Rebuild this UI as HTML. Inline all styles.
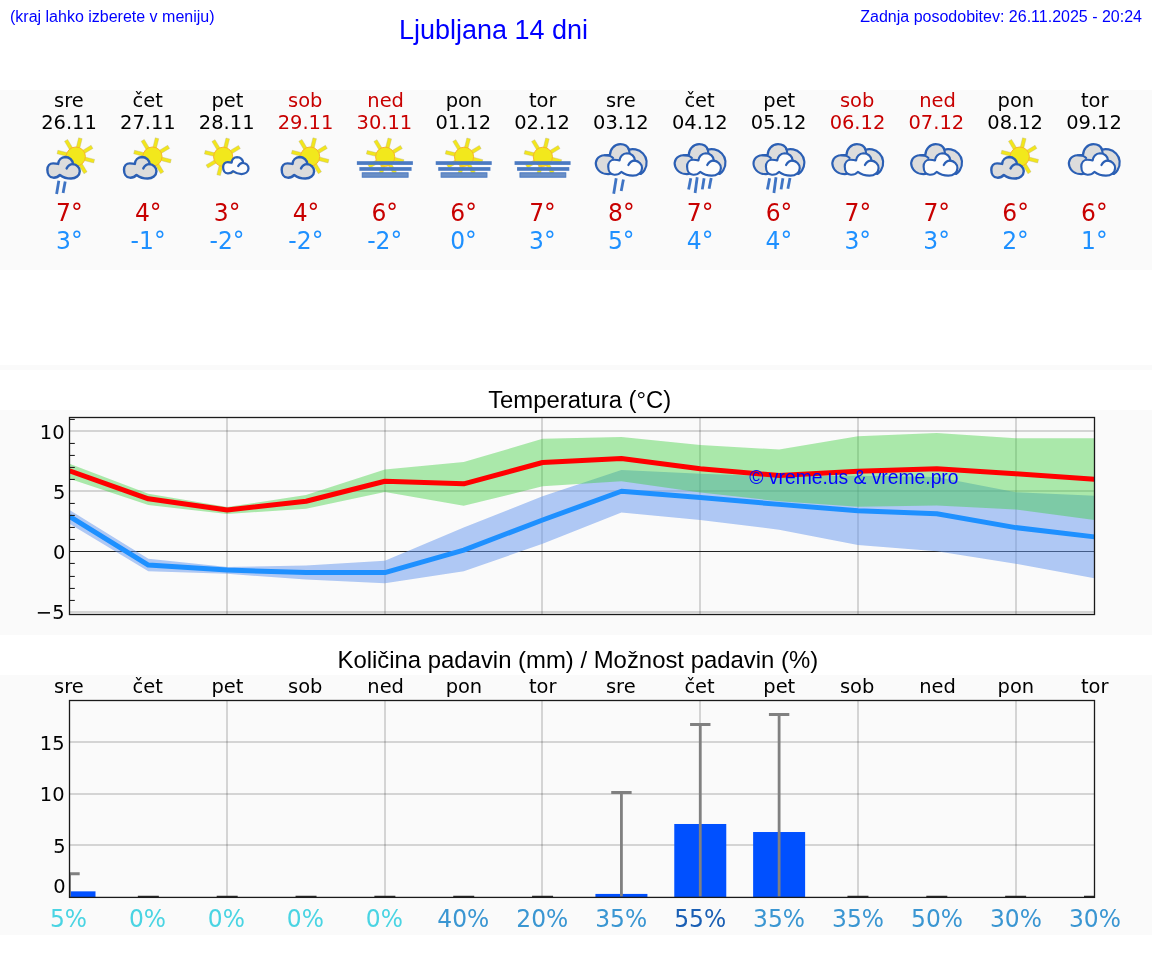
<!DOCTYPE html>
<html lang="sl"><head><meta charset="utf-8"><title>Ljubljana 14 dni</title>
<style>html,body{margin:0;padding:0;background:#fff;overflow:hidden}svg{display:block;will-change:transform}.dj{font-family:'DejaVu Sans', 'Liberation Sans', sans-serif}.ls{font-family:'Liberation Sans', sans-serif}</style></head><body>
<svg width="1152" height="975" viewBox="0 0 1152 975">
<defs>
<clipPath id="tclip"><rect x="69.50" y="417.5" width="1025.00" height="197"/></clipPath>
<clipPath id="pclip"><rect x="69.50" y="700.5" width="1025.00" height="196.9"/></clipPath>
<g id="sun"><rect x="8" y="-1.8" width="10.9" height="3.6" fill="#f2e61c" stroke="#b9b27c" stroke-opacity="0.7" stroke-width="0.5" transform="rotate(14)"/><rect x="8" y="-1.8" width="10.9" height="3.6" fill="#f2e61c" stroke="#b9b27c" stroke-opacity="0.7" stroke-width="0.5" transform="rotate(59)"/><rect x="8" y="-1.8" width="10.9" height="3.6" fill="#f2e61c" stroke="#b9b27c" stroke-opacity="0.7" stroke-width="0.5" transform="rotate(104)"/><rect x="8" y="-1.8" width="10.9" height="3.6" fill="#f2e61c" stroke="#b9b27c" stroke-opacity="0.7" stroke-width="0.5" transform="rotate(149)"/><rect x="8" y="-1.8" width="10.9" height="3.6" fill="#f2e61c" stroke="#b9b27c" stroke-opacity="0.7" stroke-width="0.5" transform="rotate(194)"/><rect x="8" y="-1.8" width="10.9" height="3.6" fill="#f2e61c" stroke="#b9b27c" stroke-opacity="0.7" stroke-width="0.5" transform="rotate(239)"/><rect x="8" y="-1.8" width="10.9" height="3.6" fill="#f2e61c" stroke="#b9b27c" stroke-opacity="0.7" stroke-width="0.5" transform="rotate(284)"/><rect x="8" y="-1.8" width="10.9" height="3.6" fill="#f2e61c" stroke="#b9b27c" stroke-opacity="0.7" stroke-width="0.5" transform="rotate(329)"/><circle r="9.6" fill="#f2e81c" stroke="#f7b52c" stroke-width="1"/></g>
<g id="cloudg" fill="#dcdcdc" stroke="#2b5fb4" stroke-width="50" stroke-linejoin="round" stroke-linecap="round"><path d="M22,287 C22,207 72,152 142,152 C182,152 222,157 247,165 C252,87 312,25 392,22 C482,22 552,87 554,169 C622,177 697,237 694,317 C692,407 612,467 512,467 C422,467 342,437 282,392 C242,437 192,452 142,449 C62,447 22,367 22,287 Z"/><path d="M554,169 C512,167 452,197 422,257" fill="none"/></g>
<g id="cloudw" fill="#fcfcfc" stroke="#2b5fb4" stroke-width="43" stroke-linejoin="round" stroke-linecap="round"><path d="M22,287 C22,207 72,152 142,152 C182,152 222,157 247,165 C252,87 312,25 392,22 C482,22 552,87 554,169 C622,177 697,237 694,317 C692,407 612,467 512,467 C422,467 342,437 282,392 C242,437 192,452 142,449 C62,447 22,367 22,287 Z"/><path d="M554,169 C512,167 452,197 422,257" fill="none"/></g>
<g id="cloudws" fill="#fcfcfc" stroke="#2b5fb4" stroke-width="60" stroke-linejoin="round" stroke-linecap="round"><path d="M22,287 C22,207 72,152 142,152 C182,152 222,157 247,165 C252,87 312,25 392,22 C482,22 552,87 554,169 C622,177 697,237 694,317 C692,407 612,467 512,467 C422,467 342,437 282,392 C242,437 192,452 142,449 C62,447 22,367 22,287 Z"/><path d="M554,169 C512,167 452,197 422,257" fill="none"/></g>
<g id="overcast" stroke="#2b5fb4" stroke-width="43" stroke-linejoin="round" stroke-linecap="round"><path d="M335,290 C335,180 420,75 540,75 C620,75 690,120 715,185 C780,160 900,170 990,260 C1070,340 1090,480 1020,590 C1000,625 975,650 945,668 L800,600 L400,600 L335,668 C230,680 110,640 65,520 C30,420 80,300 230,295 C280,293 310,295 335,290 Z" fill="#dcdcdc"/><path d="M230,295 C300,295 360,310 395,350" fill="none"/><path d="M700,160 C715,190 720,220 722,245" fill="none"/><path d="M300,520 C300,440 350,385 420,385 C460,385 500,390 525,398 C530,320 590,258 670,255 C760,255 830,320 832,402 C900,410 975,470 972,550 C970,640 890,700 790,700 C700,700 620,670 560,625 C520,670 470,685 420,682 C340,680 300,600 300,520 Z" fill="#fcfcfc"/><path d="M832,402 C790,400 730,430 700,490" fill="none"/></g>
</defs>
<rect x="0" y="90" width="1152" height="180" fill="#fafafa"/>
<rect x="0" y="365" width="1152" height="5" fill="#fafafa"/>
<rect x="0" y="410" width="1152" height="225" fill="#fafafa"/>
<rect x="0" y="675" width="1152" height="260" fill="#fafafa"/>
<text class="ls" x="10" y="21.6" font-size="16" fill="#0000ff">(kraj lahko izberete v meniju)</text>
<text class="ls" x="493.5" y="39.3" font-size="27" fill="#0000ff" text-anchor="middle">Ljubljana 14 dni</text>
<text class="ls" x="1142" y="21.6" font-size="16" fill="#0000ff" text-anchor="end">Zadnja posodobitev: 26.11.2025 - 20:24</text>
<text class="dj" x="68.85" y="106.6" font-size="19.44" fill="#000" text-anchor="middle">sre</text>
<text class="dj" x="69.00" y="129.1" font-size="19.44" fill="#000" text-anchor="middle">26.11</text>
<text class="dj" transform="translate(69.40,220.9) scale(0.972,1)" font-size="24.1" fill="#c80000" text-anchor="middle">7°</text>
<text class="dj" transform="translate(69.30,248.9) scale(0.972,1)" font-size="24.1" fill="#1e90ff" text-anchor="middle">3°</text>
<text class="dj" x="147.65" y="106.6" font-size="19.44" fill="#000" text-anchor="middle">čet</text>
<text class="dj" x="147.85" y="129.1" font-size="19.44" fill="#000" text-anchor="middle">27.11</text>
<text class="dj" transform="translate(148.25,220.9) scale(0.972,1)" font-size="24.1" fill="#c80000" text-anchor="middle">4°</text>
<text class="dj" transform="translate(148.15,248.9) scale(0.972,1)" font-size="24.1" fill="#1e90ff" text-anchor="middle">-1°</text>
<text class="dj" x="227.34" y="106.6" font-size="19.44" fill="#000" text-anchor="middle">pet</text>
<text class="dj" x="226.69" y="129.1" font-size="19.44" fill="#000" text-anchor="middle">28.11</text>
<text class="dj" transform="translate(227.09,220.9) scale(0.972,1)" font-size="24.1" fill="#c80000" text-anchor="middle">3°</text>
<text class="dj" transform="translate(226.99,248.9) scale(0.972,1)" font-size="24.1" fill="#1e90ff" text-anchor="middle">-2°</text>
<text class="dj" x="305.24" y="106.6" font-size="19.44" fill="#c80000" text-anchor="middle">sob</text>
<text class="dj" x="305.54" y="129.1" font-size="19.44" fill="#c80000" text-anchor="middle">29.11</text>
<text class="dj" transform="translate(305.94,220.9) scale(0.972,1)" font-size="24.1" fill="#c80000" text-anchor="middle">4°</text>
<text class="dj" transform="translate(305.84,248.9) scale(0.972,1)" font-size="24.1" fill="#1e90ff" text-anchor="middle">-2°</text>
<text class="dj" x="385.63" y="106.6" font-size="19.44" fill="#c80000" text-anchor="middle">ned</text>
<text class="dj" x="384.38" y="129.1" font-size="19.44" fill="#c80000" text-anchor="middle">30.11</text>
<text class="dj" transform="translate(384.78,220.9) scale(0.972,1)" font-size="24.1" fill="#c80000" text-anchor="middle">6°</text>
<text class="dj" transform="translate(384.68,248.9) scale(0.972,1)" font-size="24.1" fill="#1e90ff" text-anchor="middle">-2°</text>
<text class="dj" x="463.93" y="106.6" font-size="19.44" fill="#000" text-anchor="middle">pon</text>
<text class="dj" x="463.23" y="129.1" font-size="19.44" fill="#000" text-anchor="middle">01.12</text>
<text class="dj" transform="translate(463.63,220.9) scale(0.972,1)" font-size="24.1" fill="#c80000" text-anchor="middle">6°</text>
<text class="dj" transform="translate(463.53,248.9) scale(0.972,1)" font-size="24.1" fill="#1e90ff" text-anchor="middle">0°</text>
<text class="dj" x="542.73" y="106.6" font-size="19.44" fill="#000" text-anchor="middle">tor</text>
<text class="dj" x="542.08" y="129.1" font-size="19.44" fill="#000" text-anchor="middle">02.12</text>
<text class="dj" transform="translate(542.48,220.9) scale(0.972,1)" font-size="24.1" fill="#c80000" text-anchor="middle">7°</text>
<text class="dj" transform="translate(542.38,248.9) scale(0.972,1)" font-size="24.1" fill="#1e90ff" text-anchor="middle">3°</text>
<text class="dj" x="620.77" y="106.6" font-size="19.44" fill="#000" text-anchor="middle">sre</text>
<text class="dj" x="620.92" y="129.1" font-size="19.44" fill="#000" text-anchor="middle">03.12</text>
<text class="dj" transform="translate(621.32,220.9) scale(0.972,1)" font-size="24.1" fill="#c80000" text-anchor="middle">8°</text>
<text class="dj" transform="translate(621.22,248.9) scale(0.972,1)" font-size="24.1" fill="#1e90ff" text-anchor="middle">5°</text>
<text class="dj" x="699.57" y="106.6" font-size="19.44" fill="#000" text-anchor="middle">čet</text>
<text class="dj" x="699.77" y="129.1" font-size="19.44" fill="#000" text-anchor="middle">04.12</text>
<text class="dj" transform="translate(700.17,220.9) scale(0.972,1)" font-size="24.1" fill="#c80000" text-anchor="middle">7°</text>
<text class="dj" transform="translate(700.07,248.9) scale(0.972,1)" font-size="24.1" fill="#1e90ff" text-anchor="middle">4°</text>
<text class="dj" x="779.27" y="106.6" font-size="19.44" fill="#000" text-anchor="middle">pet</text>
<text class="dj" x="778.62" y="129.1" font-size="19.44" fill="#000" text-anchor="middle">05.12</text>
<text class="dj" transform="translate(779.02,220.9) scale(0.972,1)" font-size="24.1" fill="#c80000" text-anchor="middle">6°</text>
<text class="dj" transform="translate(778.92,248.9) scale(0.972,1)" font-size="24.1" fill="#1e90ff" text-anchor="middle">4°</text>
<text class="dj" x="857.16" y="106.6" font-size="19.44" fill="#c80000" text-anchor="middle">sob</text>
<text class="dj" x="857.46" y="129.1" font-size="19.44" fill="#c80000" text-anchor="middle">06.12</text>
<text class="dj" transform="translate(857.86,220.9) scale(0.972,1)" font-size="24.1" fill="#c80000" text-anchor="middle">7°</text>
<text class="dj" transform="translate(857.76,248.9) scale(0.972,1)" font-size="24.1" fill="#1e90ff" text-anchor="middle">3°</text>
<text class="dj" x="937.56" y="106.6" font-size="19.44" fill="#c80000" text-anchor="middle">ned</text>
<text class="dj" x="936.31" y="129.1" font-size="19.44" fill="#c80000" text-anchor="middle">07.12</text>
<text class="dj" transform="translate(936.71,220.9) scale(0.972,1)" font-size="24.1" fill="#c80000" text-anchor="middle">7°</text>
<text class="dj" transform="translate(936.61,248.9) scale(0.972,1)" font-size="24.1" fill="#1e90ff" text-anchor="middle">3°</text>
<text class="dj" x="1015.85" y="106.6" font-size="19.44" fill="#000" text-anchor="middle">pon</text>
<text class="dj" x="1015.15" y="129.1" font-size="19.44" fill="#000" text-anchor="middle">08.12</text>
<text class="dj" transform="translate(1015.55,220.9) scale(0.972,1)" font-size="24.1" fill="#c80000" text-anchor="middle">6°</text>
<text class="dj" transform="translate(1015.45,248.9) scale(0.972,1)" font-size="24.1" fill="#1e90ff" text-anchor="middle">2°</text>
<text class="dj" x="1094.65" y="106.6" font-size="19.44" fill="#000" text-anchor="middle">tor</text>
<text class="dj" x="1094.00" y="129.1" font-size="19.44" fill="#000" text-anchor="middle">09.12</text>
<text class="dj" transform="translate(1094.40,220.9) scale(0.972,1)" font-size="24.1" fill="#c80000" text-anchor="middle">6°</text>
<text class="dj" transform="translate(1094.30,248.9) scale(0.972,1)" font-size="24.1" fill="#1e90ff" text-anchor="middle">1°</text>
<use href="#sun" x="75.80" y="156.6"/><g transform="translate(46.30,156.0) scale(0.04825)"><use href="#cloudg"/></g><line x1="58.8" y1="180.8" x2="56.6" y2="194.1" stroke="#3f74c4" stroke-width="2.8"/><line x1="65.2" y1="181.5" x2="63.1" y2="193.0" stroke="#3f74c4" stroke-width="2.8"/>
<use href="#sun" x="152.45" y="156.6"/><g transform="translate(122.95,156.0) scale(0.04825)"><use href="#cloudg"/></g>
<use href="#sun" x="223.19" y="156.8"/><g transform="translate(222.29,156.4) scale(0.03776)"><use href="#cloudws"/></g>
<use href="#sun" x="310.14" y="156.6"/><g transform="translate(280.64,156.0) scale(0.04825)"><use href="#cloudg"/></g>
<use href="#sun" x="385.18" y="156.8"/><rect x="356.88" y="161.2" width="56" height="3.7" fill="#4b7ac2"/><rect x="359.38" y="167.1" width="52.2" height="3.7" fill="#4b7ac2"/><rect x="362.28" y="172.8" width="45.8" height="4.4" fill="#6a8fc6" stroke="#4b7ac2" stroke-width="1"/>
<use href="#sun" x="464.03" y="156.8"/><rect x="435.73" y="161.2" width="56" height="3.7" fill="#4b7ac2"/><rect x="438.23" y="167.1" width="52.2" height="3.7" fill="#4b7ac2"/><rect x="441.13" y="172.8" width="45.8" height="4.4" fill="#6a8fc6" stroke="#4b7ac2" stroke-width="1"/>
<use href="#sun" x="542.88" y="156.8"/><rect x="514.58" y="161.2" width="56" height="3.7" fill="#4b7ac2"/><rect x="517.08" y="167.1" width="52.2" height="3.7" fill="#4b7ac2"/><rect x="519.98" y="172.8" width="45.8" height="4.4" fill="#6a8fc6" stroke="#4b7ac2" stroke-width="1"/>
<g transform="translate(593.12,140.4) scale(0.05035)"><use href="#overcast"/></g><line x1="616.2" y1="178.3" x2="613.7" y2="193.7" stroke="#3f74c4" stroke-width="2.8"/><line x1="623.4" y1="179.4" x2="621.2" y2="190.9" stroke="#3f74c4" stroke-width="2.8"/>
<g transform="translate(671.97,140.4) scale(0.05035)"><use href="#overcast"/></g><line x1="690.8" y1="178.3" x2="688.6" y2="189.4" stroke="#3f74c4" stroke-width="2.8"/><line x1="697.2" y1="177.2" x2="695.1" y2="193.0" stroke="#3f74c4" stroke-width="2.8"/><line x1="704.1" y1="178.3" x2="702.3" y2="189.4" stroke="#3f74c4" stroke-width="2.8"/><line x1="711.2" y1="177.9" x2="709.1" y2="188.7" stroke="#3f74c4" stroke-width="2.8"/>
<g transform="translate(750.82,140.4) scale(0.05035)"><use href="#overcast"/></g><line x1="769.6" y1="178.3" x2="767.4" y2="189.4" stroke="#3f74c4" stroke-width="2.8"/><line x1="776.0" y1="177.2" x2="773.9" y2="193.0" stroke="#3f74c4" stroke-width="2.8"/><line x1="782.9" y1="178.3" x2="781.1" y2="189.4" stroke="#3f74c4" stroke-width="2.8"/><line x1="790.0" y1="177.9" x2="787.9" y2="188.7" stroke="#3f74c4" stroke-width="2.8"/>
<g transform="translate(829.66,140.4) scale(0.05035)"><use href="#overcast"/></g>
<g transform="translate(908.51,140.4) scale(0.05035)"><use href="#overcast"/></g>
<use href="#sun" x="1019.75" y="156.6"/><g transform="translate(990.25,156.0) scale(0.04825)"><use href="#cloudg"/></g>
<g transform="translate(1066.20,140.4) scale(0.05035)"><use href="#overcast"/></g>
<text class="ls" x="579.7" y="408" font-size="23.85" fill="#000" text-anchor="middle">Temperatura (°C)</text>
<line x1="69.50" x2="1094.50" y1="431.00" y2="431.00" stroke="#000" stroke-opacity="0.15" stroke-width="2"/>
<line x1="69.50" x2="1094.50" y1="491.00" y2="491.00" stroke="#000" stroke-opacity="0.15" stroke-width="2"/>
<line x1="69.50" x2="1094.50" y1="612.00" y2="612.00" stroke="#000" stroke-opacity="0.15" stroke-width="2"/>
<line x1="227.00" x2="227.00" y1="417.5" y2="614.5" stroke="#000" stroke-opacity="0.15" stroke-width="2"/>
<line x1="385.00" x2="385.00" y1="417.5" y2="614.5" stroke="#000" stroke-opacity="0.15" stroke-width="2"/>
<line x1="542.00" x2="542.00" y1="417.5" y2="614.5" stroke="#000" stroke-opacity="0.15" stroke-width="2"/>
<line x1="700.00" x2="700.00" y1="417.5" y2="614.5" stroke="#000" stroke-opacity="0.15" stroke-width="2"/>
<line x1="858.00" x2="858.00" y1="417.5" y2="614.5" stroke="#000" stroke-opacity="0.15" stroke-width="2"/>
<line x1="1016.00" x2="1016.00" y1="417.5" y2="614.5" stroke="#000" stroke-opacity="0.15" stroke-width="2"/>
<line x1="69.50" x2="1094.50" y1="551.45" y2="551.45" stroke="#222" stroke-width="1.1"/>
<polygon points="69.50,510.04 148.35,558.76 227.19,566.94 306.04,565.50 384.88,560.80 463.73,527.60 542.58,496.32 621.42,470.10 700.27,473.83 779.12,476.47 857.96,475.75 936.81,477.07 1015.65,492.35 1094.50,495.72 1094.50,578.37 1015.65,563.81 936.81,551.30 857.96,545.04 779.12,529.65 700.27,520.02 621.42,512.56 542.58,543.84 463.73,571.27 384.88,583.30 306.04,579.57 227.19,573.80 148.35,571.27 69.50,523.75" fill="#6495ed" fill-opacity="0.5" clip-path="url(#tclip)"/>
<polygon points="69.50,463.84 148.35,493.80 227.19,507.03 306.04,495.12 384.88,469.50 463.73,462.04 542.58,438.82 621.42,437.01 700.27,445.08 779.12,449.53 857.96,436.29 936.81,433.05 1015.65,438.34 1094.50,438.34 1094.50,520.02 1015.65,509.56 936.81,505.59 857.96,506.79 779.12,501.26 700.27,492.59 621.42,481.29 542.58,486.34 463.73,505.83 384.88,491.99 306.04,508.83 227.19,514.01 148.35,505.10 69.50,478.76" fill="#32cd32" fill-opacity="0.4" clip-path="url(#tclip)"/>
<polyline points="69.50,516.29 148.35,565.01 227.19,570.07 306.04,572.59 384.88,572.59 463.73,550.10 542.58,520.02 621.42,491.27 700.27,497.53 779.12,504.38 857.96,510.76 936.81,513.77 1015.65,527.60 1094.50,536.86" fill="none" stroke="#1e90ff" stroke-width="5" stroke-linejoin="round" clip-path="url(#tclip)"/>
<polyline points="69.50,470.82 148.35,498.85 227.19,510.04 306.04,501.26 384.88,481.29 463.73,483.81 542.58,462.52 621.42,458.55 700.27,468.77 779.12,475.51 857.96,471.30 936.81,468.77 1015.65,473.83 1094.50,479.24" fill="none" stroke="#ff0000" stroke-width="5" stroke-linejoin="round" clip-path="url(#tclip)"/>
<text class="ls" x="853.9" y="484" font-size="19.3" fill="#0000ff" text-anchor="middle">© vreme.us &amp; vreme.pro</text>
<line x1="69.50" x2="74.80" y1="600.45" y2="600.45" stroke="#222" stroke-width="1.1"/>
<line x1="69.50" x2="74.80" y1="588.45" y2="588.45" stroke="#222" stroke-width="1.1"/>
<line x1="69.50" x2="74.80" y1="576.45" y2="576.45" stroke="#222" stroke-width="1.1"/>
<line x1="69.50" x2="74.80" y1="563.45" y2="563.45" stroke="#222" stroke-width="1.1"/>
<line x1="69.50" x2="74.80" y1="539.45" y2="539.45" stroke="#222" stroke-width="1.1"/>
<line x1="69.50" x2="74.80" y1="527.45" y2="527.45" stroke="#222" stroke-width="1.1"/>
<line x1="69.50" x2="74.80" y1="515.45" y2="515.45" stroke="#222" stroke-width="1.1"/>
<line x1="69.50" x2="74.80" y1="503.45" y2="503.45" stroke="#222" stroke-width="1.1"/>
<line x1="69.50" x2="74.80" y1="479.45" y2="479.45" stroke="#222" stroke-width="1.1"/>
<line x1="69.50" x2="74.80" y1="467.45" y2="467.45" stroke="#222" stroke-width="1.1"/>
<line x1="69.50" x2="74.80" y1="455.45" y2="455.45" stroke="#222" stroke-width="1.1"/>
<line x1="69.50" x2="74.80" y1="443.45" y2="443.45" stroke="#222" stroke-width="1.1"/>
<line x1="69.50" x2="74.80" y1="419.45" y2="419.45" stroke="#222" stroke-width="1.1"/>
<rect x="69.50" y="417.5" width="1025.00" height="197" fill="none" stroke="#1a1a1a" stroke-width="1.3"/>
<text class="dj" x="64.50" y="439.20" font-size="19.44" fill="#000" text-anchor="end">10</text>
<text class="dj" x="65.40" y="499.00" font-size="19.44" fill="#000" text-anchor="end">5</text>
<text class="dj" x="65.40" y="558.80" font-size="19.44" fill="#000" text-anchor="end">0</text>
<text class="dj" x="64.50" y="619.20" font-size="19.44" fill="#000" text-anchor="end">−5</text>
<text class="ls" x="577.8" y="668" font-size="23.9" fill="#000" text-anchor="middle">Količina padavin (mm) / Možnost padavin (%)</text>
<text class="dj" x="68.85" y="692.6" font-size="19.44" fill="#000" text-anchor="middle">sre</text>
<text class="dj" x="147.65" y="692.6" font-size="19.44" fill="#000" text-anchor="middle">čet</text>
<text class="dj" x="227.34" y="692.6" font-size="19.44" fill="#000" text-anchor="middle">pet</text>
<text class="dj" x="305.24" y="692.6" font-size="19.44" fill="#000" text-anchor="middle">sob</text>
<text class="dj" x="385.63" y="692.6" font-size="19.44" fill="#000" text-anchor="middle">ned</text>
<text class="dj" x="463.93" y="692.6" font-size="19.44" fill="#000" text-anchor="middle">pon</text>
<text class="dj" x="542.73" y="692.6" font-size="19.44" fill="#000" text-anchor="middle">tor</text>
<text class="dj" x="620.77" y="692.6" font-size="19.44" fill="#000" text-anchor="middle">sre</text>
<text class="dj" x="699.57" y="692.6" font-size="19.44" fill="#000" text-anchor="middle">čet</text>
<text class="dj" x="779.27" y="692.6" font-size="19.44" fill="#000" text-anchor="middle">pet</text>
<text class="dj" x="857.16" y="692.6" font-size="19.44" fill="#000" text-anchor="middle">sob</text>
<text class="dj" x="937.56" y="692.6" font-size="19.44" fill="#000" text-anchor="middle">ned</text>
<text class="dj" x="1015.85" y="692.6" font-size="19.44" fill="#000" text-anchor="middle">pon</text>
<text class="dj" x="1094.65" y="692.6" font-size="19.44" fill="#000" text-anchor="middle">tor</text>
<line x1="69.50" x2="1094.50" y1="742.00" y2="742.00" stroke="#000" stroke-opacity="0.15" stroke-width="2"/>
<line x1="69.50" x2="1094.50" y1="794.00" y2="794.00" stroke="#000" stroke-opacity="0.15" stroke-width="2"/>
<line x1="69.50" x2="1094.50" y1="845.00" y2="845.00" stroke="#000" stroke-opacity="0.15" stroke-width="2"/>
<line x1="227.00" x2="227.00" y1="700.5" y2="897" stroke="#000" stroke-opacity="0.15" stroke-width="2"/>
<line x1="385.00" x2="385.00" y1="700.5" y2="897" stroke="#000" stroke-opacity="0.15" stroke-width="2"/>
<line x1="542.00" x2="542.00" y1="700.5" y2="897" stroke="#000" stroke-opacity="0.15" stroke-width="2"/>
<line x1="700.00" x2="700.00" y1="700.5" y2="897" stroke="#000" stroke-opacity="0.15" stroke-width="2"/>
<line x1="858.00" x2="858.00" y1="700.5" y2="897" stroke="#000" stroke-opacity="0.15" stroke-width="2"/>
<line x1="1016.00" x2="1016.00" y1="700.5" y2="897" stroke="#000" stroke-opacity="0.15" stroke-width="2"/>
<g clip-path="url(#pclip)">
<rect x="43.50" y="891.35" width="52" height="6.15" fill="#0050ff"/>
<rect x="595.42" y="893.92" width="52" height="3.58" fill="#0050ff"/>
<rect x="674.27" y="823.99" width="52" height="73.51" fill="#0050ff"/>
<rect x="753.12" y="832.02" width="52" height="65.48" fill="#0050ff"/>
<line x1="69.50" x2="69.50" y1="873.84" y2="896.50" stroke="#808080" stroke-width="2.8"/>
<line x1="59.30" x2="79.70" y1="873.84" y2="873.84" stroke="#808080" stroke-width="3"/>
<line x1="137.85" x2="158.85" y1="896.40" y2="896.40" stroke="#2a2a2a" stroke-width="1.3"/>
<line x1="216.69" x2="237.69" y1="896.40" y2="896.40" stroke="#2a2a2a" stroke-width="1.3"/>
<line x1="295.54" x2="316.54" y1="896.40" y2="896.40" stroke="#2a2a2a" stroke-width="1.3"/>
<line x1="374.38" x2="395.38" y1="896.40" y2="896.40" stroke="#2a2a2a" stroke-width="1.3"/>
<line x1="453.23" x2="474.23" y1="896.40" y2="896.40" stroke="#2a2a2a" stroke-width="1.3"/>
<line x1="532.08" x2="553.08" y1="896.40" y2="896.40" stroke="#2a2a2a" stroke-width="1.3"/>
<line x1="621.42" x2="621.42" y1="792.47" y2="896.50" stroke="#808080" stroke-width="2.8"/>
<line x1="611.22" x2="631.62" y1="792.47" y2="792.47" stroke="#808080" stroke-width="3"/>
<line x1="700.27" x2="700.27" y1="724.49" y2="896.50" stroke="#808080" stroke-width="2.8"/>
<line x1="690.07" x2="710.47" y1="724.49" y2="724.49" stroke="#808080" stroke-width="3"/>
<line x1="779.12" x2="779.12" y1="714.60" y2="896.50" stroke="#808080" stroke-width="2.8"/>
<line x1="768.92" x2="789.32" y1="714.60" y2="714.60" stroke="#808080" stroke-width="3"/>
<line x1="847.46" x2="868.46" y1="896.40" y2="896.40" stroke="#2a2a2a" stroke-width="1.3"/>
<line x1="926.31" x2="947.31" y1="896.40" y2="896.40" stroke="#2a2a2a" stroke-width="1.3"/>
<line x1="1005.15" x2="1026.15" y1="896.40" y2="896.40" stroke="#2a2a2a" stroke-width="1.3"/>
<line x1="1084.00" x2="1105.00" y1="896.40" y2="896.40" stroke="#2a2a2a" stroke-width="1.3"/>
</g>
<rect x="69.50" y="700.5" width="1025.00" height="196.9" fill="none" stroke="#1a1a1a" stroke-width="1.3"/>
<text class="dj" x="64.50" y="749.60" font-size="19.44" fill="#000" text-anchor="end">15</text>
<text class="dj" x="64.50" y="801.30" font-size="19.44" fill="#000" text-anchor="end">10</text>
<text class="dj" x="65.50" y="853.00" font-size="19.44" fill="#000" text-anchor="end">5</text>
<text class="dj" x="65.70" y="893.20" font-size="19.44" fill="#000" text-anchor="end">0</text>
<text class="dj" transform="translate(68.50,926.7) scale(0.955,1)" font-size="24.5" fill="#4ad4e3" text-anchor="middle">5%</text>
<text class="dj" transform="translate(147.46,926.7) scale(0.955,1)" font-size="24.5" fill="#4ad4e3" text-anchor="middle">0%</text>
<text class="dj" transform="translate(226.41,926.7) scale(0.955,1)" font-size="24.5" fill="#4ad4e3" text-anchor="middle">0%</text>
<text class="dj" transform="translate(305.37,926.7) scale(0.955,1)" font-size="24.5" fill="#4ad4e3" text-anchor="middle">0%</text>
<text class="dj" transform="translate(384.32,926.7) scale(0.955,1)" font-size="24.5" fill="#4ad4e3" text-anchor="middle">0%</text>
<text class="dj" transform="translate(463.28,926.7) scale(0.955,1)" font-size="24.5" fill="#3a96d2" text-anchor="middle">40%</text>
<text class="dj" transform="translate(542.24,926.7) scale(0.955,1)" font-size="24.5" fill="#3a96d2" text-anchor="middle">20%</text>
<text class="dj" transform="translate(621.19,926.7) scale(0.955,1)" font-size="24.5" fill="#3a96d2" text-anchor="middle">35%</text>
<text class="dj" transform="translate(700.15,926.7) scale(0.955,1)" font-size="24.5" fill="#1a5fb4" text-anchor="middle">55%</text>
<text class="dj" transform="translate(779.11,926.7) scale(0.955,1)" font-size="24.5" fill="#3a96d2" text-anchor="middle">35%</text>
<text class="dj" transform="translate(858.06,926.7) scale(0.955,1)" font-size="24.5" fill="#3a96d2" text-anchor="middle">35%</text>
<text class="dj" transform="translate(937.02,926.7) scale(0.955,1)" font-size="24.5" fill="#3a96d2" text-anchor="middle">50%</text>
<text class="dj" transform="translate(1015.97,926.7) scale(0.955,1)" font-size="24.5" fill="#3a96d2" text-anchor="middle">30%</text>
<text class="dj" transform="translate(1094.93,926.7) scale(0.955,1)" font-size="24.5" fill="#3a96d2" text-anchor="middle">30%</text>
</svg></body></html>
